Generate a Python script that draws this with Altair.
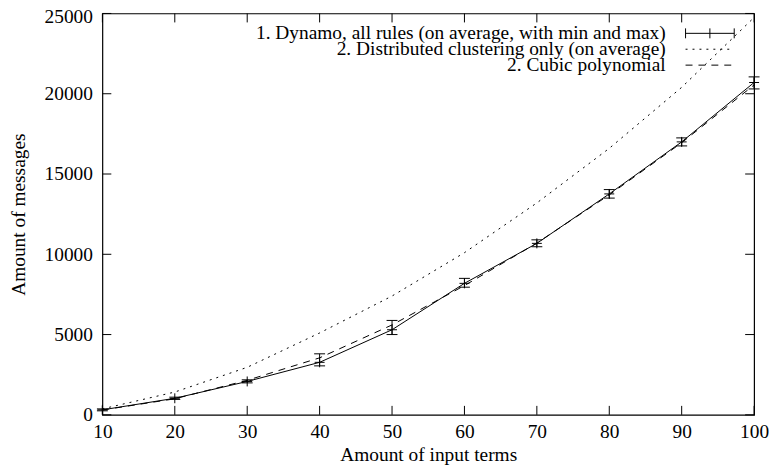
import altair as alt
import pandas as pd

# ---- data ----
terms = [10, 20, 30, 40, 50, 60, 70, 80, 90, 100]
dyn_avg = [310, 1030, 2080, 3270, 5300, 8190, 10680, 13760, 17000, 20700]
dyn_min = [250, 960, 1990, 3050, 5000, 7950, 10470, 13500, 16750, 20300]
dyn_max = [370, 1100, 2180, 3800, 5880, 8500, 10900, 14030, 17250, 21050]
distributed = [370, 1420, 2960, 5100, 7400, 10100, 13200, 16600, 20400, 24750]
cubic = [300, 1000, 2150, 3550, 5600, 8050, 10700, 13700, 16950, 20550]

x_ticks = [10, 20, 30, 40, 50, 60, 70, 80, 90, 100]
y_ticks = [0, 5000, 10000, 15000, 20000, 25000]

legend_labels = [
    "1. Dynamo, all rules (on average, with min and max)",
    "2. Distributed clustering only (on average)",
    "2. Cubic polynomial",
]

FONT = "Liberation Serif, Times New Roman, Times, serif"
FS = 19.5
W, H = 656, 404

df = pd.DataFrame({
    "terms": terms, "avg": dyn_avg, "min": dyn_min, "max": dyn_max,
    "dist": distributed, "cubic": cubic,
})
xt = pd.DataFrame({"v": x_ticks})
yt = pd.DataFrame({"v": y_ticks})

xs = alt.Scale(domain=[10, 100], nice=False, zero=False)
ys = alt.Scale(domain=[0, 25000], nice=False)

xaxis = alt.Axis(values=x_ticks, title="Amount of input terms", ticks=False,
                 domain=False, grid=False, labelPadding=8, titlePadding=4,
                 labelFlush=False)
yaxis = alt.Axis(values=y_ticks, title="Amount of messages", ticks=False,
                 domain=False, grid=False, labelPadding=10, titlePadding=16,
                 format="d",
                 labelOffset=alt.condition("datum.value == 25000", alt.value(3.5), alt.value(0)))

base = alt.Chart(df)

line_dist = base.mark_line(color="black", strokeWidth=1, strokeDash=[2, 5]).encode(
    x=alt.X("terms:Q", scale=xs, axis=xaxis),
    y=alt.Y("dist:Q", scale=ys, axis=yaxis),
)
line_cubic = base.mark_line(color="black", strokeWidth=1, strokeDash=[7, 6]).encode(
    x=alt.X("terms:Q", scale=xs), y=alt.Y("cubic:Q", scale=ys))
line_avg = base.mark_line(color="black", strokeWidth=1).encode(
    x=alt.X("terms:Q", scale=xs), y=alt.Y("avg:Q", scale=ys))
err = base.mark_rule(color="black", strokeWidth=1).encode(
    x=alt.X("terms:Q", scale=xs), y=alt.Y("min:Q", scale=ys), y2="max:Q")
cap_lo = base.mark_point(shape="M-1,0H1", size=121, filled=False, color="black",
                         strokeWidth=1, opacity=1).encode(
    x=alt.X("terms:Q", scale=xs), y=alt.Y("min:Q", scale=ys))
cap_hi = base.mark_point(shape="M-1,0H1", size=121, filled=False, color="black",
                         strokeWidth=1, opacity=1).encode(
    x=alt.X("terms:Q", scale=xs), y=alt.Y("max:Q", scale=ys))
plus = base.mark_point(shape="M-1,0H1M0,-1V1", size=100, filled=False, color="black",
                       strokeWidth=1, opacity=1).encode(
    x=alt.X("terms:Q", scale=xs), y=alt.Y("avg:Q", scale=ys))

TL = 9
# inward ticks on all four sides
xt_bot = alt.Chart(xt).mark_rule(color="black", strokeWidth=1).encode(
    x=alt.X("v:Q", scale=xs), y=alt.value(H), y2=alt.value(H - TL))
xt_top = alt.Chart(xt).mark_rule(color="black", strokeWidth=1).encode(
    x=alt.X("v:Q", scale=xs), y=alt.value(0), y2=alt.value(TL))
yt_left = alt.Chart(yt).mark_rule(color="black", strokeWidth=1).encode(
    y=alt.Y("v:Q", scale=ys), x=alt.value(0), x2=alt.value(TL))
yt_right = alt.Chart(yt).mark_rule(color="black", strokeWidth=1).encode(
    y=alt.Y("v:Q", scale=ys), x=alt.value(W), x2=alt.value(W - TL))

# manual key (top right, inside the frame)
text_x = 567
s0, s1 = 587, 636
rows = [20, 36, 52]
key_layers = []
for lab, ry in zip(legend_labels, rows):
    key_layers.append(
        alt.Chart(pd.DataFrame({"t": [lab]})).mark_text(
            align="right", baseline="middle", font=FONT, fontSize=FS, color="black"
        ).encode(x=alt.value(text_x), y=alt.value(ry), text="t:N"))
ldf = pd.DataFrame({"k": [0]})
key_layers.append(alt.Chart(ldf).mark_rule(color="black", strokeWidth=1).encode(
    x=alt.value(s0), x2=alt.value(s1), y=alt.value(rows[0])))
for xx in (s0, s1, (s0 + s1) / 2):
    key_layers.append(alt.Chart(ldf).mark_rule(color="black", strokeWidth=1).encode(
        x=alt.value(xx), y=alt.value(rows[0] - 5), y2=alt.value(rows[0] + 5)))
key_layers.append(alt.Chart(ldf).mark_rule(color="black", strokeWidth=1, strokeDash=[2, 5]).encode(
    x=alt.value(s0), x2=alt.value(s1), y=alt.value(rows[1])))
key_layers.append(alt.Chart(ldf).mark_rule(color="black", strokeWidth=1, strokeDash=[7, 6]).encode(
    x=alt.value(s0), x2=alt.value(s1), y=alt.value(rows[2])))

chart = alt.layer(
    line_dist, line_cubic, line_avg, err, cap_lo, cap_hi, plus,
    xt_bot, xt_top, yt_left, yt_right, *key_layers
).properties(
    width=W, height=H,
    autosize=alt.AutoSizeParams(type="none"),
    padding={"left": 95, "top": 4, "right": 15, "bottom": 50},
).configure_view(
    stroke="black", strokeWidth=1.2
).configure_axis(
    labelFont=FONT, titleFont=FONT, labelFontSize=FS, titleFontSize=FS,
    labelColor="black", titleColor="black", titleFontWeight="normal",
)

chart.save("out.html", embed_options={"renderer": "svg", "actions": False})
